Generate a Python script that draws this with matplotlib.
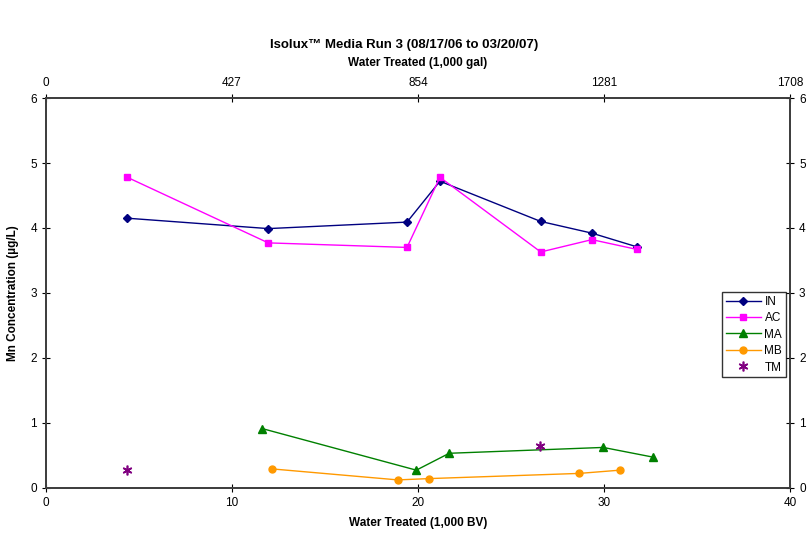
import matplotlib
matplotlib.use("Agg")
import matplotlib.pyplot as plt

plt.rcParams['font.family'] = ['Liberation Sans', 'DejaVu Sans']

in_x = [4.37, 11.95, 19.41, 21.18, 26.60, 29.35, 31.76]
in_y = [4.15, 3.99, 4.09, 4.72, 4.10, 3.92, 3.71]
ac_x = [4.37, 11.95, 19.41, 21.18, 26.60, 29.35, 31.76]
ac_y = [4.78, 3.77, 3.70, 4.78, 3.63, 3.82, 3.67]
ma_x = [11.63, 19.91, 21.68, 29.96, 32.65]
ma_y = [0.91, 0.27, 0.53, 0.62, 0.47]
mb_x = [12.13, 18.91, 20.59, 28.67, 30.86]
mb_y = [0.29, 0.12, 0.14, 0.22, 0.27]
tm_x = [4.37, 26.57]
tm_y = [0.27, 0.64]

x_ticks = [0, 10, 20, 30, 40]
top_labels = ['0', '427', '854', '1281', '1708']
y_ticks = [0, 1, 2, 3, 4, 5, 6]

fig = plt.figure(figsize=(8.08, 5.33), dpi=100)
ax = fig.add_axes([0.0569, 0.085, 0.9208, 0.731])

ax.plot(in_x, in_y, color='#000080', marker='D', markersize=4, lw=1, label='IN')
ax.plot(ac_x, ac_y, color='#FF00FF', marker='s', markersize=5, lw=1, label='AC')
ax.plot(ma_x, ma_y, color='#008000', marker='^', markersize=6, lw=1, label='MA')
ax.plot(mb_x, mb_y, color='#FF9900', marker='o', markersize=5, lw=1, label='MB')
ax.plot(tm_x, tm_y, color='#800080', marker=(6, 2, 0), markersize=7, lw=0,
        markeredgewidth=1.2, label='TM')

ax.set_xlim(0, 40)
ax.set_ylim(0, 6)
ax.set_xticks(x_ticks)
ax.set_yticks(y_ticks)
ax.tick_params(direction='inout', length=6, labelsize=8.5, colors='black')
for s in ax.spines.values():
    s.set_color('#404040')
    s.set_linewidth(1.2)

ax.set_xlabel('Water Treated (1,000 BV)', fontsize=8.5, fontweight='bold', labelpad=6)
ax.set_ylabel('Mn Concentration (µg/L)', fontsize=8.5, fontweight='bold', labelpad=8)

axt = ax.twiny()
axt.set_xlim(0, 40)
axt.set_xticks(x_ticks)
axt.set_xticklabels(top_labels)
axt.tick_params(direction='inout', length=6, labelsize=8.5)
axt.set_xlabel('Water Treated (1,000 gal)', fontsize=8.5, fontweight='bold', labelpad=8)

axr = ax.twinx()
axr.set_ylim(0, 6)
axr.set_yticks(y_ticks)
axr.tick_params(direction='inout', length=6, labelsize=8.5)

for a in (axt, axr):
    for s in a.spines.values():
        s.set_color('#404040')
        s.set_linewidth(1.2)

fig.text(0.5, 0.9156, 'Isolux™ Media Run 3 (08/17/06 to 03/20/07)', ha='center',
         va='center', fontsize=9.5, fontweight='bold')

leg = ax.legend(loc='upper left', bbox_to_anchor=(0.9086, 0.502), fontsize=8.5,
                frameon=True, fancybox=False, edgecolor='black', borderpad=0.3,
                handlelength=3.0, handletextpad=0.3, labelspacing=0.38,
                borderaxespad=0)
leg.get_frame().set_linewidth(1)

fig.savefig('out.png', dpi=100)
